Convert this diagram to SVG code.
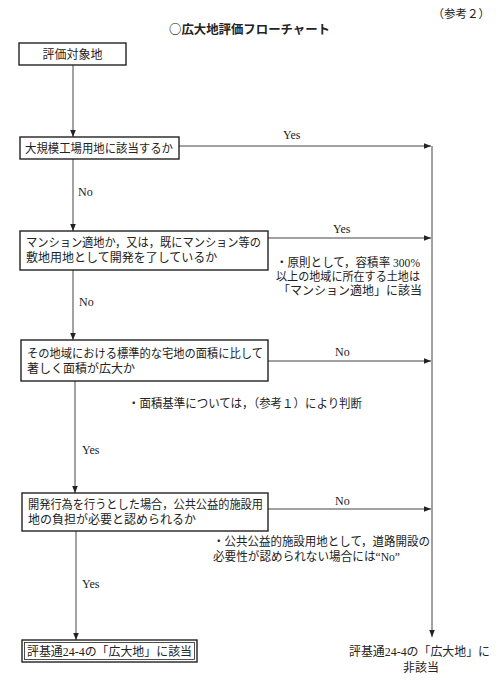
<svg xmlns="http://www.w3.org/2000/svg" width="500" height="700" viewBox="0 0 500 700">
<style>
text{font-family:"Liberation Serif","Noto Sans CJK JP",serif;font-size:12px;fill:#222}
.t{font-family:"Noto Sans CJK JP",sans-serif;font-size:12.5px;font-weight:bold}
.box{fill:#fff;stroke:#222;stroke-width:1.4}
.ln{fill:none;stroke:#444;stroke-width:1}
.c{text-anchor:middle}
</style>
<defs>
<marker id="ah" viewBox="0 0 10 10" refX="10" refY="5" markerWidth="7" markerHeight="7" markerUnits="userSpaceOnUse" orient="auto">
<path d="M0,1 L10,5 L0,9 Z" fill="#222"/>
</marker>
</defs>
<rect width="500" height="700" fill="#fff"/>
<text x="490" y="18" style="text-anchor:end;font-size:11.5px;font-family:'Noto Sans CJK JP',sans-serif">（参考２）</text>
<text class="t" x="169" y="34" textLength="161" lengthAdjust="spacingAndGlyphs">○広大地評価フローチャート</text>

<g id="connectors">
<line class="ln" x1="73" y1="65" x2="73" y2="137" marker-end="url(#ah)"/>
<line class="ln" x1="179" y1="146" x2="431" y2="146" marker-end="url(#ah)"/>
<line class="ln" x1="432" y1="146" x2="432" y2="637" marker-end="url(#ah)"/>
<line class="ln" x1="73" y1="159" x2="73" y2="231" marker-end="url(#ah)"/>
<line class="ln" x1="268" y1="238" x2="431" y2="238" marker-end="url(#ah)"/>
<line class="ln" x1="73" y1="270" x2="73" y2="340" marker-end="url(#ah)"/>
<line class="ln" x1="268" y1="361" x2="431" y2="361" marker-end="url(#ah)"/>
<line class="ln" x1="75" y1="381" x2="75" y2="493" marker-end="url(#ah)"/>
<line class="ln" x1="268" y1="509" x2="431" y2="509" marker-end="url(#ah)"/>
<line class="ln" x1="76" y1="531" x2="76" y2="640" marker-end="url(#ah)"/>
<text x="283" y="139">Yes</text>
<text x="78" y="196">No</text>
<text x="333" y="233">Yes</text>
<text x="79" y="306">No</text>
<text x="335" y="356">No</text>
<text x="82" y="454">Yes</text>
<text x="335" y="505">No</text>
<text x="82" y="588">Yes</text>
</g>

<g id="n1">
<rect class="box" x="19" y="43" width="107" height="22"/>
<text class="c" x="72.5" y="58.5">評価対象地</text>
</g>
<g id="n2">
<rect class="box" x="20" y="137" width="159" height="22"/>
<text x="25" y="152.5" textLength="148" lengthAdjust="spacingAndGlyphs">大規模工場用地に該当するか</text>
</g>
<g id="n3">
<rect class="box" x="20" y="231" width="248" height="39"/>
<text x="26" y="247" textLength="235" lengthAdjust="spacingAndGlyphs">マンション適地か，又は，既にマンション等の</text>
<text x="26" y="262">敷地用地として開発を了しているか</text>
</g>
<g id="note1">
<text x="276" y="267" textLength="144" lengthAdjust="spacingAndGlyphs">・原則として，容積率 300%</text>
<text x="276" y="281" textLength="144" lengthAdjust="spacingAndGlyphs">以上の地域に所在する土地は</text>
<text x="278" y="295">「マンション適地」に該当</text>
</g>
<g id="n4">
<rect class="box" x="21" y="340" width="247" height="41"/>
<text x="27" y="358" textLength="236" lengthAdjust="spacingAndGlyphs">その地域における標準的な宅地の面積に比して</text>
<text x="27" y="373">著しく面積が広大か</text>
</g>
<g id="note2">
<text x="128" y="408" textLength="234" lengthAdjust="spacingAndGlyphs">・面積基準については，（参考１）により判断</text>
</g>
<g id="n5">
<rect class="box" x="22" y="493" width="246" height="38"/>
<text x="28" y="508.5" textLength="235" lengthAdjust="spacingAndGlyphs">開発行為を行うとした場合，公共公益的施設用</text>
<text x="28" y="523.5">地の負担が必要と認められるか</text>
</g>
<g id="note3">
<text x="213" y="546" textLength="217" lengthAdjust="spacingAndGlyphs">・公共公益的施設用地として，道路開設の</text>
<text x="213" y="561" textLength="187" lengthAdjust="spacingAndGlyphs">必要性が認められない場合には“No”</text>
</g>
<g id="n6">
<rect class="box" x="22" y="640" width="175" height="22"/>
<rect fill="none" stroke="#222" stroke-width="0.8" x="24.5" y="642.5" width="170" height="17"/>
<text x="27" y="656" textLength="165" lengthAdjust="spacingAndGlyphs">評基通24-4の「広大地」に該当</text>
</g>
<g id="n7">
<text x="349" y="656" textLength="141" lengthAdjust="spacingAndGlyphs">評基通24-4の「広大地」に</text>
<text class="c" x="421" y="672">非該当</text>
</g>
</svg>
